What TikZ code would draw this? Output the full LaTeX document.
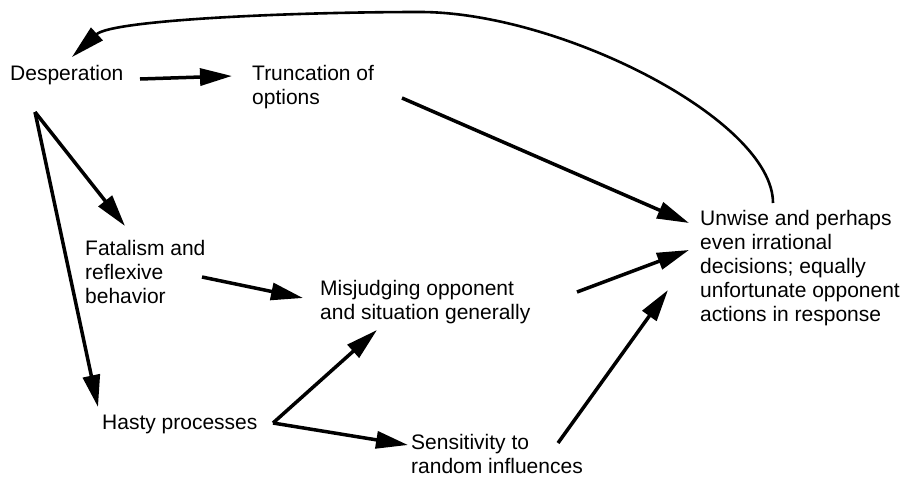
\documentclass[tikz,border=0pt]{standalone}
\usepackage{fontspec}
\setmainfont{Liberation Sans}
\usetikzlibrary{arrows.meta}

\begin{document}
\begin{tikzpicture}[
  x=1pt, y=-1pt,
  every node/.style={inner sep=0pt, anchor=north west, align=left,
    font=\fontsize{21}{24}\selectfont},
  link/.style={line width=3.5pt, -{Triangle[length=32pt,width=17pt]}},
  loopback/.style={line width=2.6pt, -{Triangle[length=34pt,width=17pt]}}
]
\useasboundingbox (0,0) rectangle (903,477);

% Factors placed at the top left corner of their first line
\node (desp)   at (10,65)   {Desperation};
\node (trunc)  at (252,65)  {Truncation of\\options};
\node (fatal)  at (85,240)  {Fatalism and\\reflexive\\behavior};
\node (misj)   at (320,280) {Misjudging opponent\\and situation generally};
\node (hasty)  at (102,415) {Hasty processes};
\node (sens)   at (411,434) {Sensitivity to\\random influences};
\node (unwise) at (700,210) {Unwise and perhaps\\even irrational\\decisions; equally\\unfortunate opponent\\actions in response};

% Straight links between the factors
\draw[link] ([shift={(130,14)}]desp.north west) -- ([shift={(-20,11)}]trunc.north west);
\draw[link] ([shift={(150,33)}]trunc.north west) -- ([shift={(-11,13)}]unwise.north west);
\draw[link] ([shift={(25,47)}]desp.north west) -- ([shift={(40,-14)}]fatal.north west);
\draw[link] ([shift={(25,47)}]desp.north west) -- ([shift={(-4,-8)}]hasty.north west);
\draw[link] ([shift={(117,37)}]fatal.north west) -- ([shift={(-17,18)}]misj.north west);
\draw[link] ([shift={(257,12)}]misj.north west) -- ([shift={(-11,40)}]unwise.north west);
\draw[link] ([shift={(171,8)}]hasty.north west) -- ([shift={(57,50)}]misj.north west);
\draw[link] ([shift={(171,8)}]hasty.north west) -- ([shift={(-3,11)}]sens.north west);
\draw[link] ([shift={(147,9)}]sens.north west) -- ([shift={(-32,80)}]unwise.north west);

% Feedback from the decisions back to desperation
\coordinate (crest) at (420,12);
\draw[loopback] ([shift={(73,-7)}]unwise.north west)
  .. controls (773,120) and (560,12) .. (crest)
  .. controls (290,12) and (112,20) .. ([shift={(62,-8)}]desp.north west);

\end{tikzpicture}
\end{document}
